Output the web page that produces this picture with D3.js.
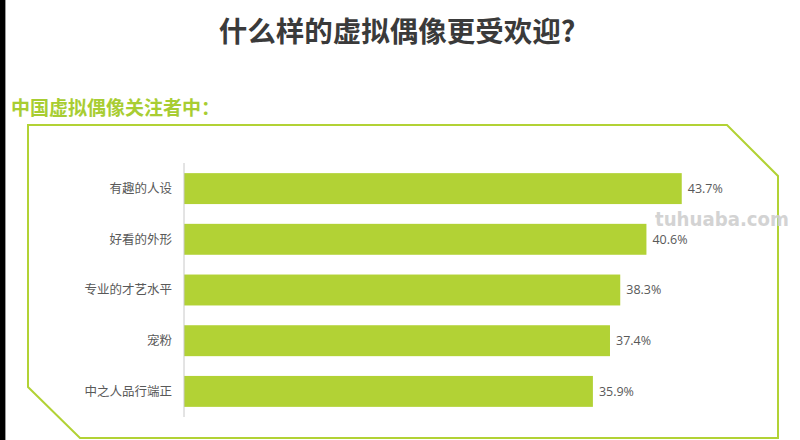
<!DOCTYPE html>
<html><head><meta charset="utf-8">
<script src="https://cdn.jsdelivr.net/npm/d3@7"></script>
<style>body{margin:0;background:#fff;overflow:hidden}</style>
</head><body>
<svg id="c" width="800" height="440"></svg>
<script>
const categories = ["有趣的人设","好看的外形","专业的才艺水平","宠粉","中之人品行端正"];
const values = [43.7, 40.6, 38.3, 37.4, 35.9];
const titleText = "什么样的虚拟偶像更受欢迎?";
const subtitleText = "中国虚拟偶像关注者中：";

const svg = d3.select("#c");
const green = "#b2d235";
const font = "'Noto Sans CJK SC','Microsoft YaHei',sans-serif";

// left dark strip
svg.append("rect").attr("x",0).attr("y",0).attr("width",5).attr("height",440).attr("fill","#000");
svg.append("rect").attr("x",5).attr("y",0).attr("width",1).attr("height",440).attr("fill","#9a9a9a");

svg.append("text").attr("x",397).attr("y",42).attr("text-anchor","middle")
  .attr("font-family",font).attr("font-weight","bold").attr("font-size",28.5)
  .attr("fill","#3a3a3a").text(titleText);

svg.append("text").attr("x",11).attr("y",115)
  .attr("font-family",font).attr("font-weight","bold").attr("font-size",19)
  .attr("fill","#a8cd32").text(subtitleText);

// frame
const frame = [[28,125],[727,125],[778,176],[778,438],[80,438],[28,387]];
svg.append("path").attr("d", d3.line()(frame) + "Z")
  .attr("fill","none").attr("stroke",green).attr("stroke-width",2);

const x = d3.scaleLinear().domain([0,50]).range([184,753.5]);
const y = d3.scaleBand().domain(categories).range([163,417]).paddingInner(0.39).paddingOuter(0.2);

svg.append("g").selectAll("rect").data(values).join("rect")
  .attr("x",x(0)).attr("y",(d,i)=>y(categories[i]))
  .attr("width",d=>x(d)-x(0)).attr("height",y.bandwidth()).attr("fill",green);

svg.append("line").attr("x1",x(0)).attr("x2",x(0)).attr("y1",163).attr("y2",417)
  .attr("stroke","#c8c8c8").attr("stroke-width",1);

svg.append("g").selectAll("text").data(categories).join("text")
  .attr("x",172).attr("y",d=>y(d)+y.bandwidth()/2).attr("dy","0.35em")
  .attr("text-anchor","end").attr("font-family",font).attr("font-size",12.5)
  .attr("fill","#595959").text(d=>d);

svg.append("g").selectAll("text").data(values).join("text")
  .attr("x",d=>x(d)+6).attr("y",(d,i)=>y(categories[i])+y.bandwidth()/2).attr("dy","0.35em")
  .attr("font-family","'Open Sans','Noto Sans',sans-serif").attr("font-size",12.5)
  .attr("fill","#595959").text(d=>d.toFixed(1)+"%");

svg.append("text").attr("x",655).attr("y",226)
  .attr("font-family","'DejaVu Sans',sans-serif").attr("font-weight","bold").attr("font-size",19)
  .attr("textLength",134).attr("lengthAdjust","spacingAndGlyphs")
  .attr("fill","#cfcfcf").attr("opacity",0.9).text("tuhuaba.com");
</script>
</body></html>
